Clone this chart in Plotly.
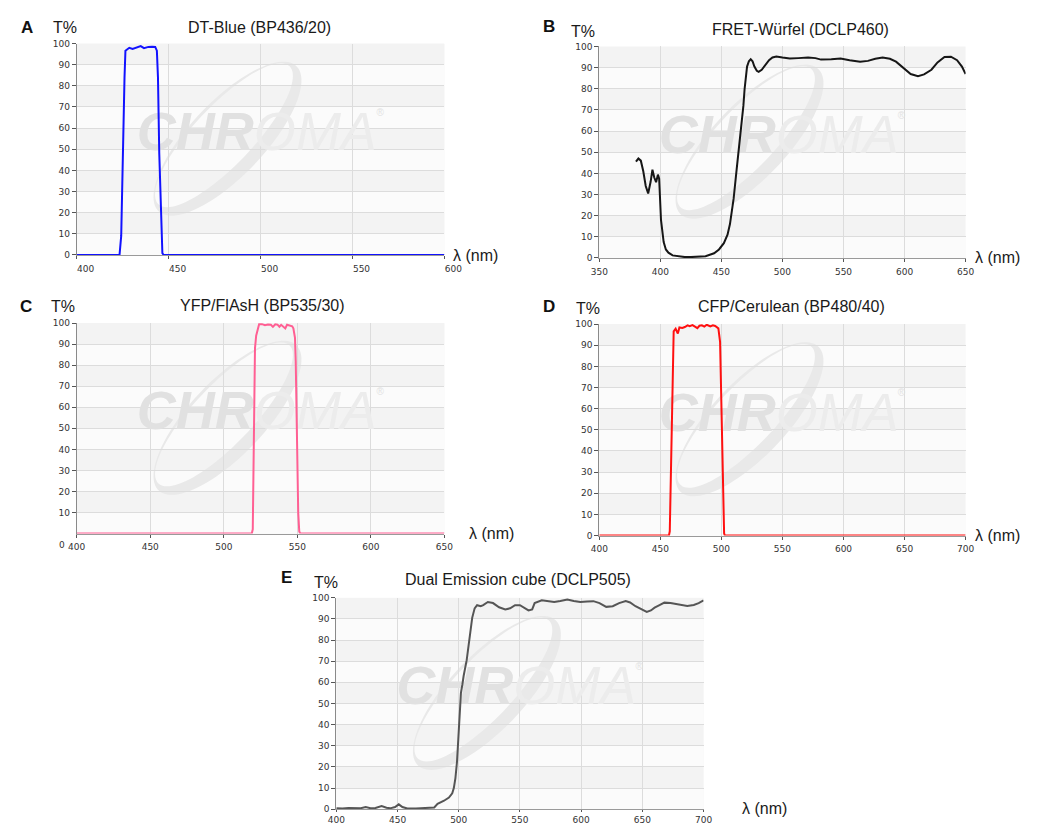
import numpy as np
import plotly.graph_objects as go

# ---------------- data ----------------
A_wl = [400, 423.3, 424.2, 425, 426, 426.5, 427.5, 428.6, 430.4, 432, 433, 434.8, 436.6, 438, 439,
        441, 442.7, 443.6, 444.2, 444.9, 445.8, 446.6, 447.3, 600]
A_T = [0, 0, 9, 48, 84, 96.6, 97.5, 98, 97.4, 98, 98.4, 98.8, 97.8, 98.2, 98.4,
       98.5, 98.4, 96.6, 84, 48, 17, 0.8, 0, 0]

B_wl = [380, 382, 384, 386, 388, 390, 392, 393.5, 395, 396.5, 398, 399, 400.5, 402.7, 404.5, 406.6,
        410, 414.6, 420, 425, 430, 437, 444, 448, 452, 455, 457, 460, 462.5, 464.5, 466.5, 468, 469,
        470, 471, 472.5, 474, 475.5, 477, 479, 480.5, 483, 486, 489, 491.8, 495, 500, 506, 513, 521,
        527, 531.6, 540, 547.6, 555, 563.6, 570, 576, 582, 588, 593, 597, 600.8, 605, 611, 616, 622,
        627, 632.7, 638, 643, 647, 650]
B_T = [45.5, 47, 46, 41, 34, 30.5, 36, 41.7, 38, 35.8, 39.4, 37.5, 18, 7.5, 4, 2.5,
       1.2, 0.7, 0.4, 0.4, 0.5, 0.8, 2.2, 4, 7, 11, 16, 28, 42, 52, 62, 72, 80,
       86, 90.5, 93, 94, 93, 90.5, 88.5, 88, 89, 91, 93.5, 94.8, 95.3, 94.8, 94.3, 94.5, 94.8,
       94.5, 93.8, 94, 94.3, 93.5, 92.8, 93.2, 94.2, 94.8, 94.2, 92.8, 91, 89, 87, 86, 86.8, 89,
       92.5, 95, 95.2, 93.5, 90.5, 87]

C_wl = [400, 519, 519.7, 520.5, 521.2, 522, 523, 524, 526, 528, 530, 532, 533.4, 535, 536.5,
        537.8, 539, 541.8, 543, 545, 546.5, 547.3, 548.4, 548.9, 549.5, 550.1, 550.6, 551.3, 552, 650]
C_T = [0, 0, 2, 40, 88, 94, 97.5, 99.5, 99.5, 99, 99.3, 99.2, 98.2, 99.4, 99.3,
       98.3, 99.2, 97.5, 99.2, 98.8, 98.5, 97.5, 93, 82, 49, 25, 10, 1, 0, 0]

D_wl = [400, 457, 457.7, 458.5, 459.6, 460.3, 460.9, 462.5, 464.3, 465.6, 468, 470, 472.3, 474,
        476.3, 478, 480.3, 482, 484, 486, 488, 490.9, 493, 494.9, 497.5, 498.9, 499.4, 499.9,
        500.7, 501.5, 502.2, 502.8, 700]
D_T = [0, 0, 2, 29.6, 68.5, 81, 96.6, 97.8, 95.5, 98.4, 98.2, 98.6, 99.4, 99, 99.5, 98.9,
       98.1, 99.2, 99.4, 98.8, 99.7, 98.9, 99.4, 99.1, 98, 91.6, 77.9, 57.6, 29.6, 4.7, 1, 0, 0]

E_wl = [400, 405, 410, 415, 420, 424, 428, 432, 437, 441, 444, 448, 451, 454, 458, 465, 475, 480,
        482.7, 485, 488, 492, 494.7, 496, 497.3, 498.6, 500, 501, 501.8, 503, 504, 506.5, 509, 511,
        513, 515, 518, 520, 523.8, 528, 533, 538, 542, 546, 550, 553, 557, 560, 562, 567.8, 573,
        578, 583, 588.7, 594, 599.3, 605, 610, 615, 620.5, 625.8, 631, 636.4, 640, 644.4, 649,
        653.6, 657, 660, 664, 668, 673, 678.8, 683, 686.7, 692, 696, 700]
E_T = [0.5, 0.3, 0.6, 0.4, 0.5, 1, 0.5, 0.6, 1.5, 0.7, 0.4, 1, 2.3, 1, 0.3, 0.3, 0.4, 0.8,
       2.5, 3, 4, 5.5, 7.5, 10, 14.7, 22.5, 35, 46, 55, 59, 63, 70.5, 81, 90.5,
       95, 96.5, 96, 96.5, 98, 97.5, 95.5, 94.5, 95, 96.5, 96.5, 95.5, 94, 94.5, 97.5, 98.8, 98.5,
       98, 98.5, 99.2, 98.5, 98, 98.2, 98.4, 97.5, 95.7, 96, 97.5, 98.4, 97.8, 96, 94.5,
       93.3, 94, 95.3, 96.5, 97.7, 97.5, 97, 96.5, 96.1, 96.6, 97.5, 98.8]

titles = ["DT-Blue (BP436/20)", "FRET-Würfel (DCLP460)", "YFP/FlAsH (BP535/30)",
          "CFP/Cerulean (BP480/40)", "Dual Emission cube (DCLP505)"]
letters = ["A", "B", "C", "D", "E"]
x_ranges = [(400, 600), (350, 650), (400, 650), (400, 700), (400, 700)]
y_ticks_full = [0, 10, 20, 30, 40, 50, 60, 70, 80, 90, 100]
y_ticks_C = [10, 20, 30, 40, 50, 60, 70, 80, 90, 100]

for a, b in [(A_wl, A_T), (B_wl, B_T), (C_wl, C_T), (D_wl, D_T), (E_wl, E_T)]:
    assert len(a) == len(b)

# ---------------- layout geometry (pixels) ----------------
W, H = 1044, 830
def pxx(x): return x / W
def pxy(y): return 1 - y / H

panels = [
    dict(wl=A_wl, T=A_T, color="#1212ff", box=(69.5, 447, 39, 253), yt=y_ticks_full,
         letter=(18, 23), tpct=(57, 23), title=(257, 23), lam=(454, 254), shift=9, standoff=2, tl=3),
    dict(wl=B_wl, T=B_T, color="#161616", box=(606, 982, 42, 256), yt=y_ticks_full,
         letter=(554, 22), tpct=(589, 27), title=(813, 25), lam=(990, 256), shift=0, standoff=2, tl=3),
    dict(wl=C_wl, T=C_T, color="#ff5f93", box=(69.5, 447, 322, 535), yt=y_ticks_C,
         letter=(17, 305), tpct=(55, 305), title=(260, 304), lam=(470, 535), shift=0, standoff=2, tl=3),
    dict(wl=D_wl, T=D_T, color="#ff1010", box=(606, 982, 323, 537), yt=y_ticks_full,
         letter=(554, 305), tpct=(594, 307), title=(803, 305), lam=(990, 537), shift=0, standoff=2, tl=3),
    dict(wl=E_wl, T=E_T, color="#555555", box=(336, 713, 600, 814), yt=y_ticks_full,
         letter=(285, 579), tpct=(325, 585), title=(523, 581), lam=(750, 813), shift=0, standoff=0, tl=2),
]

fig = go.Figure()
annotations = []
shapes = []
TICKFONT = dict(family="DejaVu Sans", size=9, color="#333333")
LABFONT = dict(family="Liberation Sans, Arial", size=16, color="#1a1a1a")


def ellipse_pts(cx, cy, a_, b_, th, n=100):
    t = np.linspace(0, 2 * np.pi, n)
    ex, ey = a_ * np.cos(t), b_ * np.sin(t)
    X = cx + ex * np.cos(th) + ey * np.sin(th)
    Y = cy - ex * np.sin(th) + ey * np.cos(th)
    return X, Y


for i, p in enumerate(panels):
    n = i + 1
    xa = "x" if n == 1 else f"x{n}"
    ya = "y" if n == 1 else f"y{n}"
    xkey = "xaxis" if n == 1 else f"xaxis{n}"
    ykey = "yaxis" if n == 1 else f"yaxis{n}"
    x0p, x1p, y0p, y1p = p["box"]
    xr = x_ranges[i]

    fig.update_layout({
        xkey: dict(domain=[pxx(x0p), pxx(x1p)], anchor=ya, range=list(xr),
                   tickvals=list(range(xr[0], xr[1] + 1, 50)),
                   showgrid=True, gridcolor="#dcdcdc", gridwidth=1,
                   showline=True, linecolor="#9a9a9a", linewidth=1,
                   ticks="outside", ticklen=p["tl"], tickcolor="#555555",
                   tickfont=TICKFONT, ticklabelshift=p["shift"], ticklabelstandoff=p["standoff"],
                   zeroline=False, fixedrange=True),
        ykey: dict(domain=[pxy(y1p), pxy(y0p)], anchor=xa, range=[0, 100],
                   tickvals=p["yt"],
                   showgrid=True, gridcolor="#dcdcdc", gridwidth=1,
                   showline=True, linecolor="#8a8a8a", linewidth=1,
                   ticks="outside", ticklen=4, tickcolor="#555555",
                   tickfont=TICKFONT, zeroline=False, fixedrange=True),
    })

    # subtle alternating background bands
    for k in range(10):
        shapes.append(dict(type="rect", xref=xa, yref=ya, x0=xr[0], x1=xr[1],
                           y0=k * 10, y1=k * 10 + 10, layer="below", line=dict(width=0),
                           fillcolor="#f3f3f3" if k % 2 == 1 else "#fbfbfb"))

    # watermark crescent (decoration): outer ellipse minus shifted inner ellipse
    w = x1p - x0p
    h = y1p - y0p
    cx, cy = x0p + 0.41 * w, y0p + 0.45 * h
    th = np.deg2rad(46)
    Xo, Yo = ellipse_pts(cx, cy, 102, 38, th)
    off = 5.0
    Xi, Yi = ellipse_pts(cx - off * np.sin(th), cy - off * np.cos(th), 97, 30, th)

    def to_data(X, Y):
        xd = xr[0] + (X - x0p) / w * (xr[1] - xr[0])
        yd = (y1p - Y) / h * 100
        return "M " + " L ".join(f"{u:.3f},{v:.3f}" for u, v in zip(xd, yd)) + " Z"

    path = to_data(Xo, Yo) + " " + to_data(Xi, Yi)
    shapes.append(dict(type="path", xref=xa, yref=ya, path=path, layer="below",
                       fillcolor="#e9e9e9", fillrule="evenodd", line=dict(width=0)))

    # watermark text (behind the curve)
    fig.add_trace(go.Scatter(
        x=[xr[0] + 0.49 * (xr[1] - xr[0])], y=[56], xaxis=xa, yaxis=ya, mode="text",
        text=["<b><i>CHR</i></b><i><span style='color:#ececec'>OMA</span></i>"],
        textfont=dict(family="Liberation Sans, Arial", size=54, color="#e1e1e1"),
        hoverinfo="skip", showlegend=False))
    fig.add_trace(go.Scatter(
        x=[xr[0] + 0.825 * (xr[1] - xr[0])], y=[67], xaxis=xa, yaxis=ya, mode="text",
        text=["®"], textfont=dict(family="Liberation Sans, Arial", size=10, color="#e2e2e2"),
        hoverinfo="skip", showlegend=False))

    # the transmission curve
    fig.add_trace(go.Scatter(x=p["wl"], y=p["T"], xaxis=xa, yaxis=ya, mode="lines",
                             line=dict(color=p["color"], width=2), showlegend=False,
                             hoverinfo="skip", cliponaxis=False))

    # texts
    lx, ly = p["letter"]
    annotations.append(dict(x=pxx(lx), y=pxy(ly), xref="paper", yref="paper", showarrow=False,
                            text=f"<b>{letters[i]}</b>", xanchor="center", yanchor="middle",
                            font=dict(family="Liberation Sans, Arial", size=17, color="#111111")))
    tx, ty = p["tpct"]
    annotations.append(dict(x=pxx(tx), y=pxy(ty), xref="paper", yref="paper", showarrow=False,
                            text="T%", xanchor="center", yanchor="middle", font=LABFONT))
    ttx, tty = p["title"]
    annotations.append(dict(x=pxx(ttx), y=pxy(tty), xref="paper", yref="paper", showarrow=False,
                            text=titles[i], xanchor="center", yanchor="middle", font=LABFONT))
    lmx, lmy = p["lam"]
    annotations.append(dict(x=pxx(lmx), y=pxy(lmy), xref="paper", yref="paper", showarrow=False,
                            text="λ (nm)", xanchor="left", yanchor="middle", font=LABFONT))

# the stray "0" next to "400" in panel C
annotations.append(dict(x=pxx(54), y=pxy(547), xref="paper", yref="paper", showarrow=False,
                        text="0", xanchor="center", yanchor="middle", font=TICKFONT))

fig.update_layout(width=W, height=H, margin=dict(l=0, r=0, t=0, b=0),
                  paper_bgcolor="white", plot_bgcolor="#f7f7f7",
                  annotations=annotations, shapes=shapes, showlegend=False)

fig.write_html("out.html")
